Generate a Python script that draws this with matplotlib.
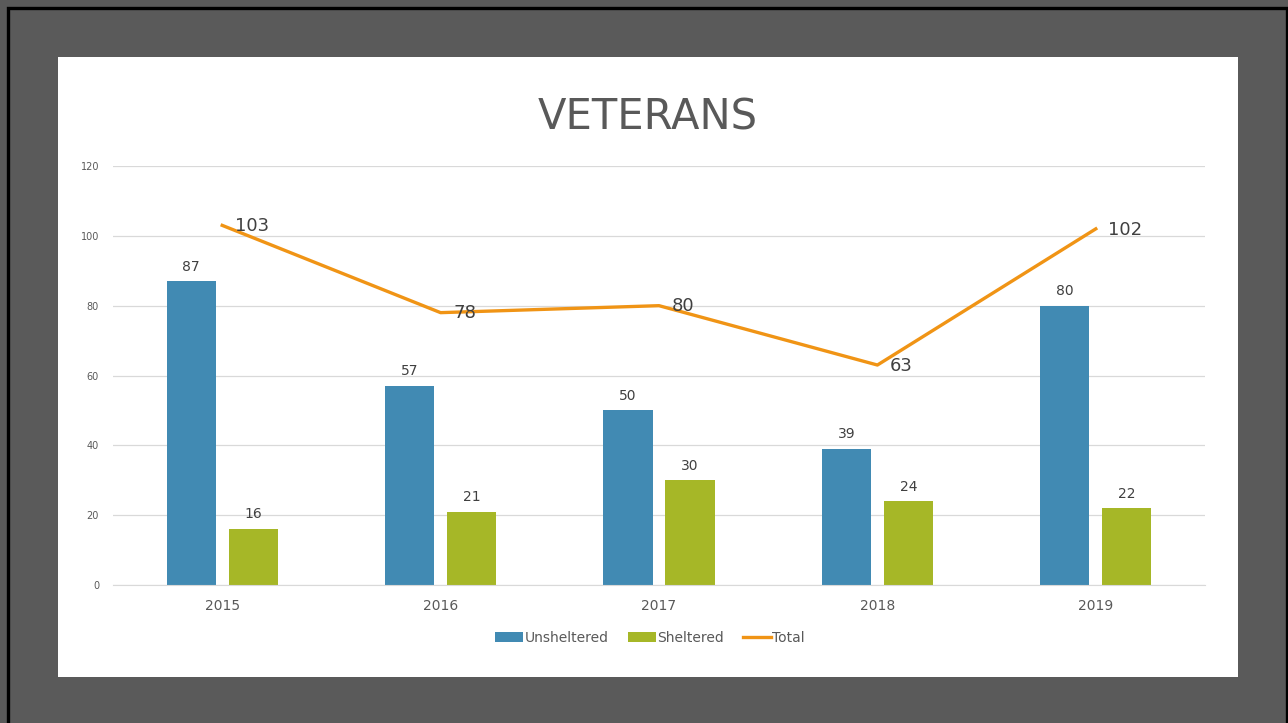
import matplotlib
matplotlib.use("Agg")
import matplotlib.pyplot as plt
import numpy as np
from matplotlib.patches import Rectangle
from matplotlib.lines import Line2D

years = ["2015", "2016", "2017", "2018", "2019"]
unsheltered = [87, 57, 50, 39, 80]
sheltered = [16, 21, 30, 24, 22]
total = [103, 78, 80, 63, 102]
yticks = [0, 20, 40, 60, 80, 100, 120]

c_blue = "#418AB3"
c_green = "#A6B727"
c_orange = "#F09415"
c_text = "#595959"

W, H = 1288, 723
fig = plt.figure(figsize=(W / 100, H / 100), dpi=100)
fig.patch.set_facecolor("#5A5A5A")

# black border
fig.add_artist(Rectangle((8 / W, -0.01), (1287 - 8) / W, (1 - 8 / H) + 0.01,
                         facecolor="none", edgecolor="black", lw=2.4,
                         transform=fig.transFigure, zorder=0))

# white panel
fig.add_artist(Rectangle((58 / W, 1 - 677 / H), (1238 - 58) / W, (677 - 57) / H,
                         facecolor="white", edgecolor="none", transform=fig.transFigure, zorder=0))

ax = fig.add_axes([113 / W, 1 - 585 / H, (1205 - 113) / W, (585 - 166) / H])
ax.set_facecolor("none")
x = np.arange(len(years))
bw = 0.225
off = 0.142
b1 = ax.bar(x - off, unsheltered, bw, color=c_blue, label="Unsheltered", zorder=2)
b2 = ax.bar(x + off, sheltered, bw, color=c_green, label="Sheltered", zorder=2)
ln, = ax.plot(x, total, color=c_orange, lw=2.4, label="Total", zorder=3)

for bars, vals in ((b1, unsheltered), (b2, sheltered)):
    for r, v in zip(bars, vals):
        ax.annotate(str(v), (r.get_x() + r.get_width() / 2, v), xytext=(0, 5.5),
                    textcoords="offset points", ha="center", va="bottom",
                    fontsize=10, color="#404040")
for xi, v in zip(x, total):
    ax.annotate(str(v), (xi, v), xytext=(9, -0.5), textcoords="offset points",
                ha="left", va="center", fontsize=13, color="#404040", zorder=4)

ax.set_xlim(-0.5, len(years) - 0.5)
ax.set_ylim(0, 120)
ax.set_yticks(yticks)
ax.set_yticklabels([str(t) for t in yticks], fontsize=7, color=c_text)
ax.set_xticks(x)
ax.set_xticklabels(years, fontsize=10, color=c_text)
ax.tick_params(axis="both", length=0, pad=10)
ax.tick_params(axis="x", pad=10)
ax.grid(axis="y", color="#D9D9D9", lw=0.9, zorder=0)
for s in ("top", "right", "left"):
    ax.spines[s].set_visible(False)
ax.spines["bottom"].set_color("#D9D9D9")

fig.text(648 / W, 1 - 118 / H, "VETERANS", fontsize=30, color=c_text,
         ha="center", va="center")

leg = fig.legend(handles=[b1, b2, ln], loc="center", bbox_to_anchor=(650 / W, 1 - 638 / H),
                 ncol=3, frameon=False, fontsize=10, labelcolor=c_text,
                 handlelength=2.0, handletextpad=0.1, columnspacing=1.4,
                 handleheight=0.7)

fig.savefig("out.png", dpi=100, facecolor=fig.get_facecolor())
